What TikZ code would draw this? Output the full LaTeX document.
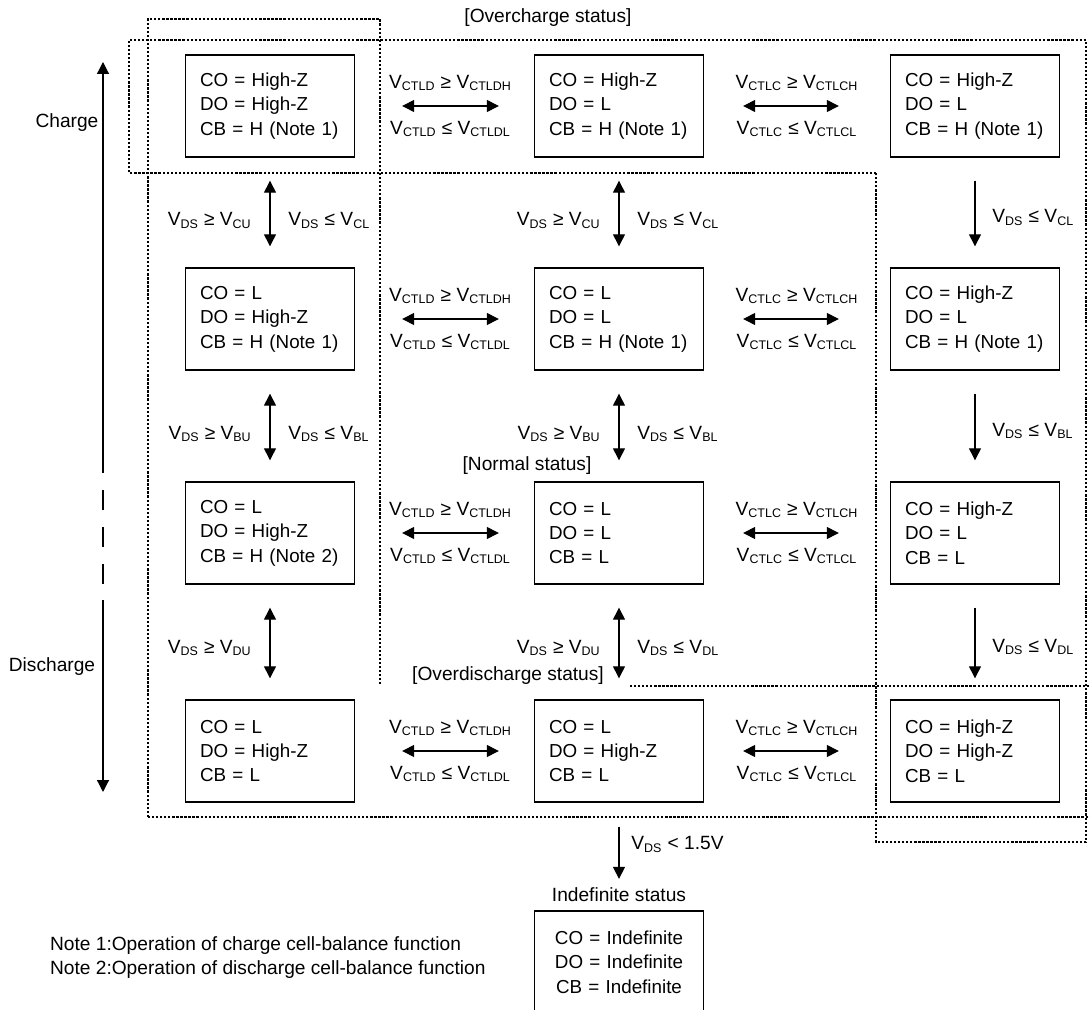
\documentclass[tikz,border=0pt]{standalone}
\usepackage{fontspec}
\setmainfont{Liberation Sans}
\usetikzlibrary{arrows.meta}
\newcommand{\Vx}[1]{V\textsubscript{\fontsize{7.1}{8}\selectfont #1}}
\tikzset{
  stbox/.style={draw, line width=0.8pt, minimum width=3.38cm, minimum height=2.04cm,
    inner xsep=0.29cm, text width=2.8cm, align=left, font=\fontsize{10.7}{13.9}\selectfont},
  lbl/.style={inner sep=1pt, font=\fontsize{10.9}{12}\selectfont},
  tip/.tip={Triangle[length=0.24cm,width=0.24cm]},
  dbl/.style={tip-tip, line width=0.7pt},
  one/.style={-tip, line width=0.7pt},
  lnkA/.style={dbl, shorten <=0.94cm, shorten >=0.7cm},
  lnkB/.style={dbl, shorten <=0.78cm, shorten >=1.02cm},
  lnkV/.style={dbl, shorten <=0.46cm, shorten >=0.42cm},
  lnkD/.style={one, shorten <=0.46cm, shorten >=0.42cm},
  region/.style={line width=0.6pt, dash pattern=on 1.3pt off 1pt}
}

\begin{document}
\begin{tikzpicture}[x=0.02cm, y=-0.02cm]
\useasboundingbox (0,0) rectangle (1090,1010);

% status areas
\draw[region] (148,817) -- (148,19) -- (380,19) -- (380,685);
\draw[region] (876,173) -- (129,173) -- (129,40) -- (1086,40) -- (1086,842) -- (876,842) -- cycle;
\draw[region] (630,686) -- (1090,686);
\draw[region] (148,817) -- (1090,817);

\node[lbl] (ocst) at (548,18) {[Overcharge status]};
\node[lbl] (nmst) at (527,466) {[Normal status]};
\node[lbl] (odst) at (508,676) {[Overdischarge status]};

% charge / discharge axis
\node[lbl] (chg) at (67,123) {Charge};
\node[lbl] (dchg) at (52,667) {Discharge};
\coordinate (axtop) at (103,62);
\coordinate (axA) at (103,473);
\coordinate (dashA) at (103,490);
\coordinate (dashB) at (103,586);
\coordinate (axB) at (103,600);
\coordinate (axbot) at (103,792);
\draw[one] (axA) -- (axtop);
\draw[line width=0.7pt, dash pattern=on 0.4cm off 0.34cm] (dashA) -- (dashB);
\draw[one] (axB) -- (axbot);

% states
\node[stbox] (b11) at (270,106) {CO = High-Z\\DO = High-Z\\CB = H (Note 1)};
\node[stbox] (b12) at (619,106) {CO = High-Z\\DO = L\\CB = H (Note 1)};
\node[stbox] (b13) at (975,106) {CO = High-Z\\DO = L\\CB = H (Note 1)};
\node[stbox] (b21) at (270,319) {CO = L\\DO = High-Z\\CB = H (Note 1)};
\node[stbox] (b22) at (619,319) {CO = L\\DO = L\\CB = H (Note 1)};
\node[stbox] (b23) at (975,319) {CO = High-Z\\DO = L\\CB = H (Note 1)};
\node[stbox] (b31) at (270,533) {CO = L\\DO = High-Z\\CB = H (Note 2)};
\node[stbox] (b32) at (619,533) {CO = L\\DO = L\\CB = L};
\node[stbox] (b33) at (975,533) {CO = High-Z\\DO = L\\CB = L};
\node[stbox] (b41) at (270,751) {CO = L\\DO = High-Z\\CB = L};
\node[stbox] (b42) at (619,751) {CO = L\\DO = High-Z\\CB = L};
\node[stbox] (b43) at (975,751) {CO = High-Z\\DO = High-Z\\CB = L};

\node[lbl] (indst) at (619,895) {Indefinite status};
\node[stbox, align=center] (bind) at (619,962) {CO = Indefinite\\DO = Indefinite\\CB = Indefinite};

% CTLD / CTLC transitions
\foreach \r in {1,2,3,4} {
  \draw[lnkA] (b\r1) -- (b\r2)
    node[lbl, midway, xshift=0.12cm, yshift=0.46cm] {\Vx{CTLD} ≥ \Vx{CTLDH}}
    node[lbl, midway, xshift=0.12cm, yshift=-0.46cm] {\Vx{CTLD} ≤ \Vx{CTLDL}};
  \draw[lnkB] (b\r2) -- (b\r3)
    node[lbl, midway, yshift=0.46cm] {\Vx{CTLC} ≥ \Vx{CTLCH}}
    node[lbl, midway, yshift=-0.46cm] {\Vx{CTLC} ≤ \Vx{CTLCL}};
}

% VDS transitions
\foreach \c in {1,2} {
  \draw[lnkV] (b1\c) -- (b2\c)
    node[lbl, midway, left=0.32cm, yshift=-0.16cm] {\Vx{DS} ≥ \Vx{CU}}
    node[lbl, midway, right=0.32cm, yshift=-0.16cm] {\Vx{DS} ≤ \Vx{CL}};
  \draw[lnkV] (b2\c) -- (b3\c)
    node[lbl, midway, left=0.32cm, yshift=-0.16cm] {\Vx{DS} ≥ \Vx{BU}}
    node[lbl, midway, right=0.32cm, yshift=-0.16cm] {\Vx{DS} ≤ \Vx{BL}};
}
\draw[lnkV] (b31) -- (b41)
  node[lbl, midway, left=0.32cm, yshift=-0.12cm] {\Vx{DS} ≥ \Vx{DU}};
\draw[lnkV] (b32) -- (b42)
  node[lbl, midway, left=0.32cm, yshift=-0.12cm] {\Vx{DS} ≥ \Vx{DU}}
  node[lbl, midway, right=0.32cm, yshift=-0.12cm] {\Vx{DS} ≤ \Vx{DL}};

\draw[lnkD] (b13) -- (b23)
  node[lbl, midway, right=0.3cm, yshift=-0.1cm] {\Vx{DS} ≤ \Vx{CL}};
\draw[lnkD] (b23) -- (b33)
  node[lbl, midway, right=0.3cm, yshift=-0.1cm] {\Vx{DS} ≤ \Vx{BL}};
\draw[lnkD] (b33) -- (b43)
  node[lbl, midway, right=0.3cm, yshift=-0.1cm] {\Vx{DS} ≤ \Vx{DL}};

\draw[one, shorten <=0.48cm, shorten >=0.14cm] (b42) -- (indst)
  node[lbl, midway, right=0.2cm, anchor=west] {\Vx{DS} < 1.5V};

% notes
\node[lbl, anchor=west] (note1) at (48,946) {Note 1:Operation of charge cell-balance function};
\node[lbl, anchor=west] (note2) at (48,970) {Note 2:Operation of discharge cell-balance function};

\end{tikzpicture}
\end{document}
